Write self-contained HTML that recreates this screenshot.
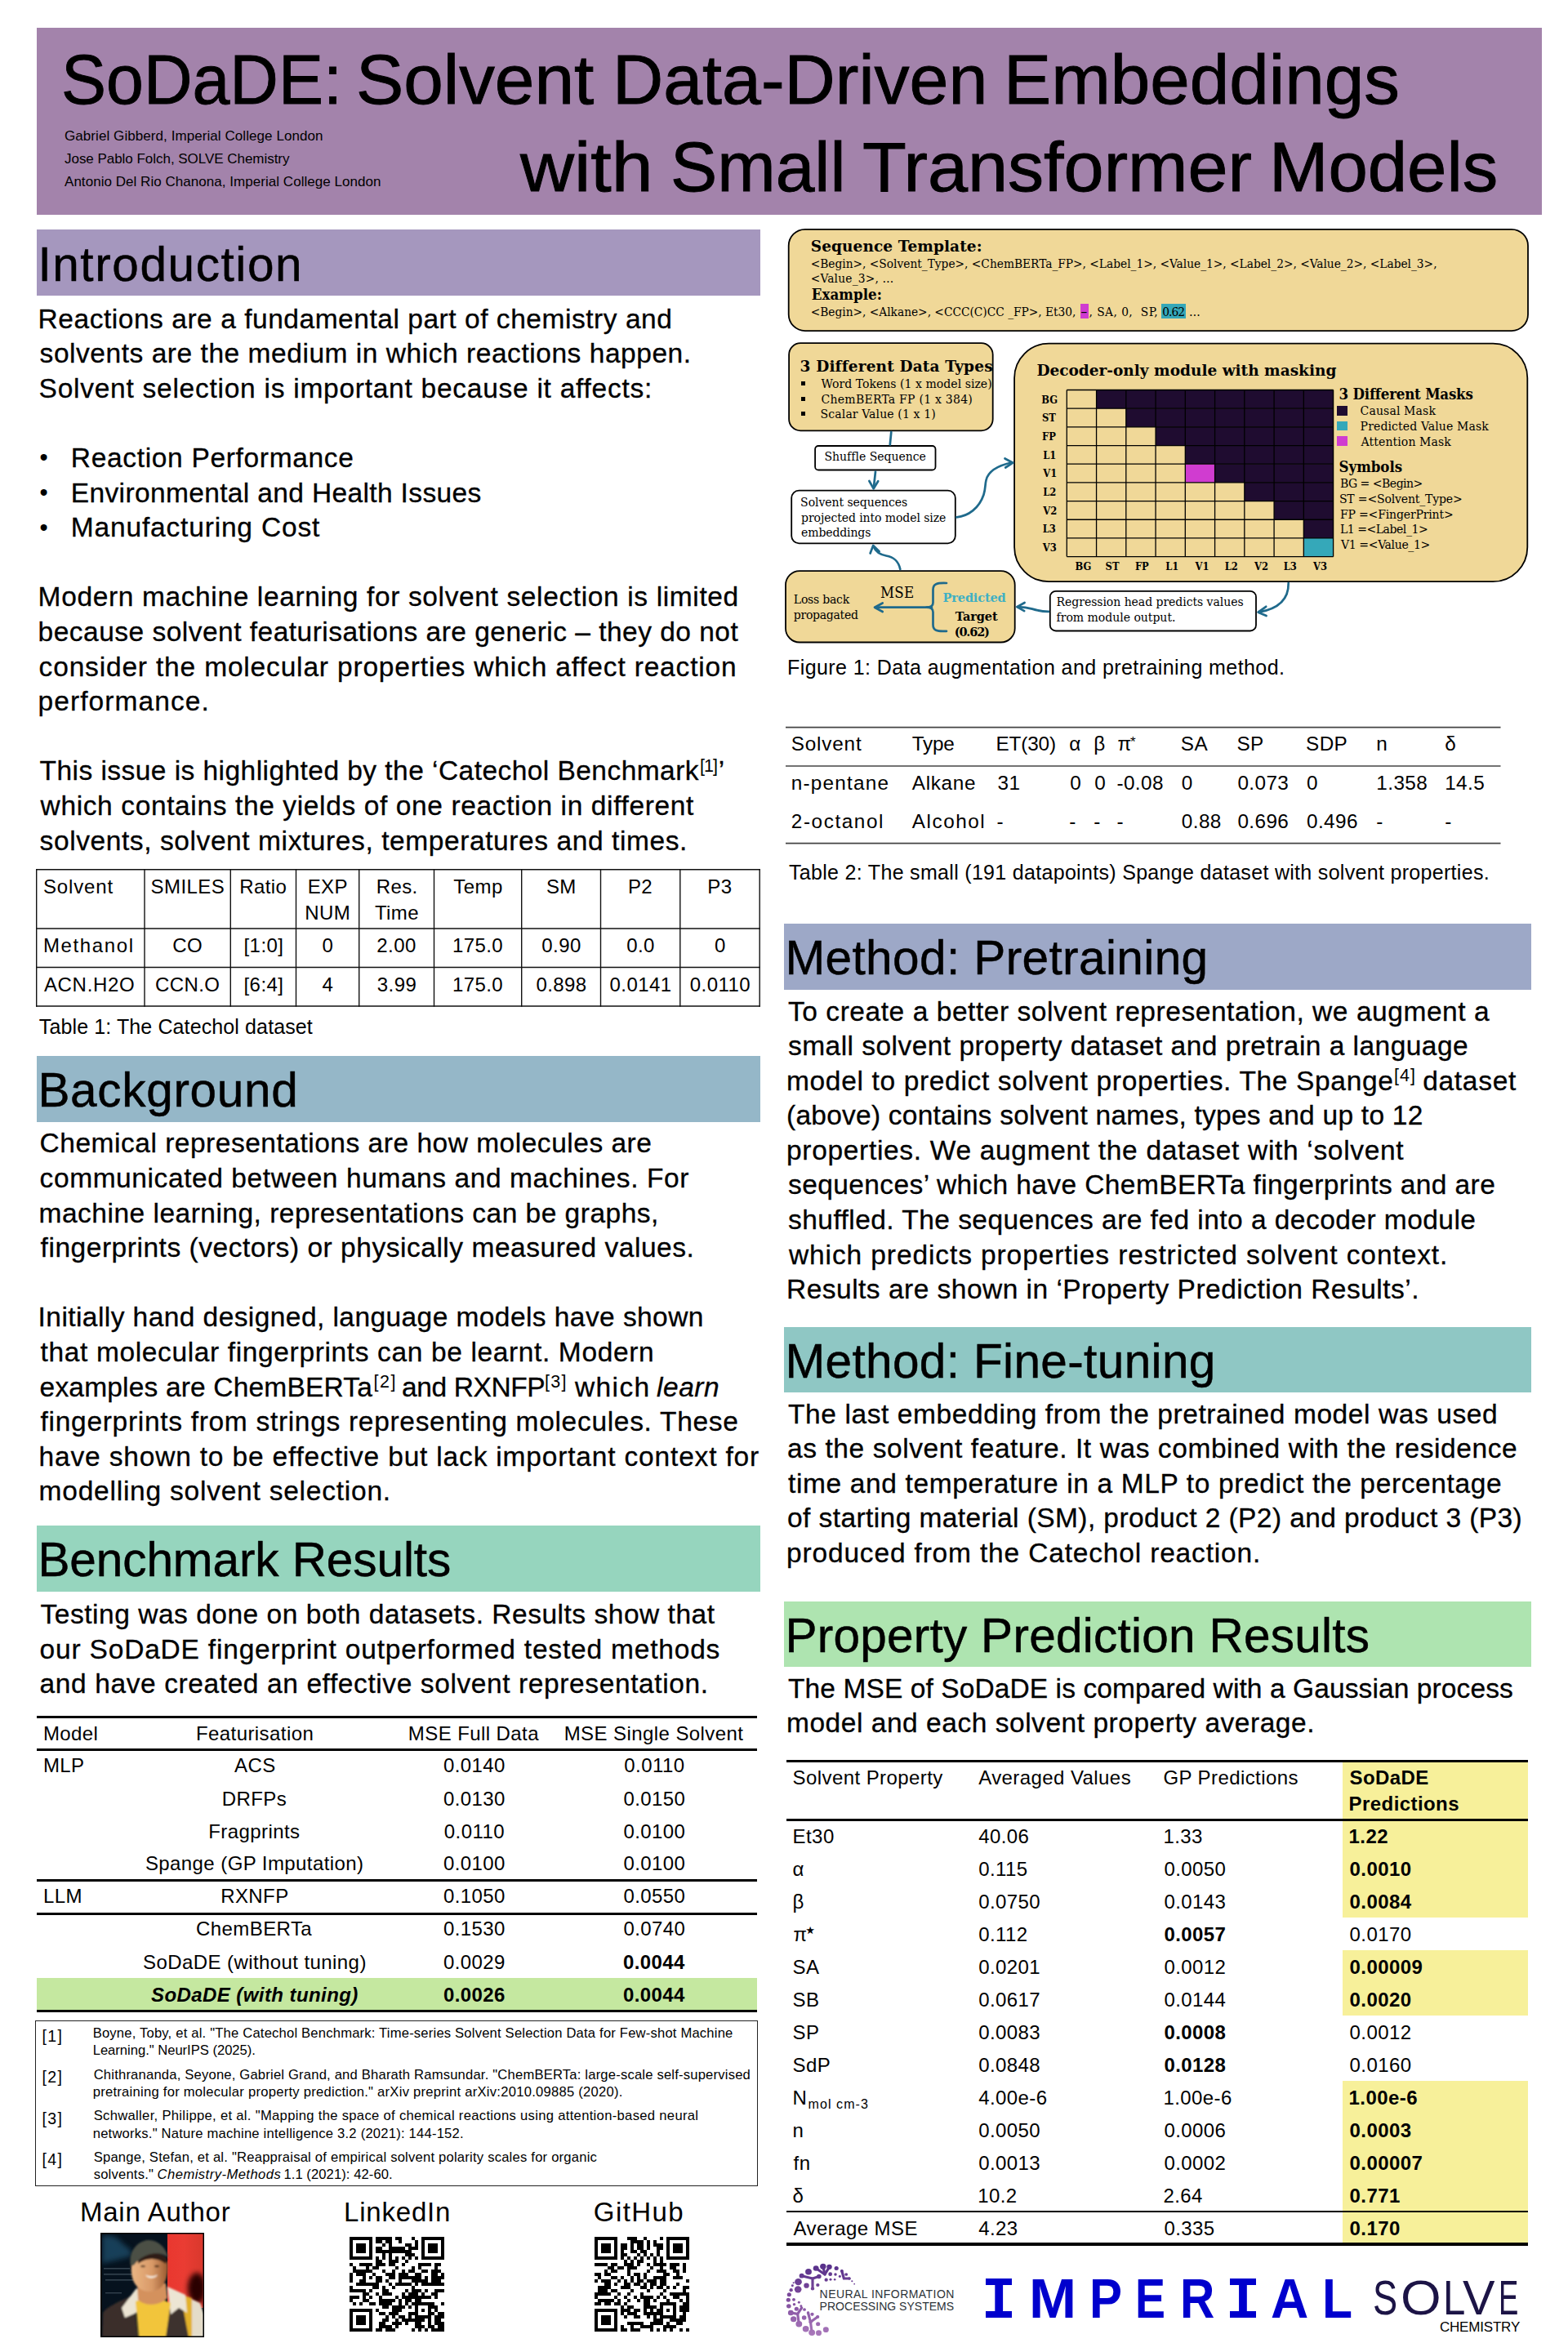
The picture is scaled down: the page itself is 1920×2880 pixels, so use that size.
<!DOCTYPE html>
<html lang="en"><head><meta charset="utf-8"><title>SoDaDE: Solvent Data-Driven Embeddings with Small Transformer Models</title>
<style>
html,body{margin:0;padding:0;background:#fff;}
body{width:1920px;height:2880px;position:relative;overflow:hidden;font-family:"Liberation Sans",sans-serif;color:#000;}
.r{position:absolute;box-sizing:border-box;}
.t{position:absolute;white-space:pre;line-height:1;font-family:"Liberation Sans",sans-serif;}
.s{font-family:"DejaVu Serif",serif;}
.sc{font-family:"DejaVu Serif Condensed","DejaVu Serif",serif;font-stretch:condensed;}
.ls{font-family:"Liberation Serif",serif;}
.m{font-family:"Liberation Mono",monospace;}
.ds{font-family:"DejaVu Sans",sans-serif;}
svg{position:absolute;overflow:visible;}
</style></head><body>

<div class="r" style="left:45.0px;top:34.0px;width:1842.5px;height:229.0px;background:#a383ab;"></div>
<span class="t" style="left:74.52px;top:54.00px;font-size:86px;-webkit-text-stroke:0.9px #000;transform:scaleX(0.9593);transform-origin:0 0;">SoDaDE:</span>
<span class="t" style="left:435.95px;top:54.00px;font-size:86px;-webkit-text-stroke:0.9px #000;transform:scaleX(1.0153);transform-origin:0 0;">Solvent</span>
<span class="t" style="left:749.69px;top:54.00px;font-size:86px;-webkit-text-stroke:0.9px #000;transform:scaleX(1.0012);transform-origin:0 0;">Data-Driven</span>
<span class="t" style="left:1229.20px;top:54.00px;font-size:86px;-webkit-text-stroke:0.9px #000;transform:scaleX(1.0141);transform-origin:0 0;">Embeddings</span>
<span class="t" style="left:637.36px;top:161.00px;font-size:86px;-webkit-text-stroke:0.9px #000;transform:scaleX(1.0630);transform-origin:0 0;">with</span>
<span class="t" style="left:820.61px;top:161.00px;font-size:86px;-webkit-text-stroke:0.9px #000;transform:scaleX(0.9974);transform-origin:0 0;">Small</span>
<span class="t" style="left:1056.47px;top:161.00px;font-size:86px;-webkit-text-stroke:0.9px #000;transform:scaleX(1.0253);transform-origin:0 0;">Transformer</span>
<span class="t" style="left:1553.82px;top:161.00px;font-size:86px;-webkit-text-stroke:0.9px #000;transform:scaleX(1.0107);transform-origin:0 0;">Models</span>
<span class="t" style="left:79.00px;top:158.00px;font-size:17px;letter-spacing:0.070px;">Gabriel Gibberd, Imperial College London</span>
<span class="t" style="left:79.00px;top:186.00px;font-size:17px;letter-spacing:-0.032px;">Jose Pablo Folch, SOLVE Chemistry</span>
<span class="t" style="left:79.00px;top:214.00px;font-size:17px;letter-spacing:0.040px;">Antonio Del Rio Chanona, Imperial College London</span>
<div class="r" style="left:45.0px;top:281.0px;width:886.0px;height:80.5px;background:#a597be;"></div>
<span class="t" style="left:46.40px;top:295.00px;font-size:58.5px;letter-spacing:1.594px;-webkit-text-stroke:0.5px #000;">Introduction</span>
<span class="t" style="left:46.60px;top:374.00px;font-size:33.5px;letter-spacing:0.538px;-webkit-text-stroke:0.3px #000;">Reactions are a fundamental part of chemistry and</span>
<span class="t" style="left:48.60px;top:416.00px;font-size:33.5px;letter-spacing:0.542px;-webkit-text-stroke:0.3px #000;">solvents are the medium in which reactions happen.</span>
<span class="t" style="left:47.60px;top:459.00px;font-size:33.5px;letter-spacing:0.740px;-webkit-text-stroke:0.3px #000;">Solvent selection is important because it affects:</span>
<span class="t" style="left:48.60px;top:546.00px;font-size:29px;">•</span>
<span class="t" style="left:86.80px;top:544.00px;font-size:33.5px;letter-spacing:0.675px;-webkit-text-stroke:0.3px #000;">Reaction Performance</span>
<span class="t" style="left:48.60px;top:589.00px;font-size:29px;">•</span>
<span class="t" style="left:86.80px;top:587.00px;font-size:33.5px;letter-spacing:0.361px;-webkit-text-stroke:0.3px #000;">Environmental and Health Issues</span>
<span class="t" style="left:48.60px;top:632.00px;font-size:29px;">•</span>
<span class="t" style="left:86.80px;top:629.00px;font-size:33.5px;letter-spacing:0.825px;-webkit-text-stroke:0.3px #000;">Manufacturing Cost</span>
<span class="t" style="left:46.60px;top:714.00px;font-size:33.5px;letter-spacing:0.630px;-webkit-text-stroke:0.3px #000;">Modern machine learning for solvent selection is limited</span>
<span class="t" style="left:46.60px;top:757.00px;font-size:33.5px;letter-spacing:0.484px;-webkit-text-stroke:0.3px #000;">because solvent featurisations are generic – they do not</span>
<span class="t" style="left:47.60px;top:800.00px;font-size:33.5px;letter-spacing:0.827px;-webkit-text-stroke:0.3px #000;">consider the molecular properties which affect reaction</span>
<span class="t" style="left:46.60px;top:842.00px;font-size:33.5px;letter-spacing:1.076px;-webkit-text-stroke:0.3px #000;">performance.</span>
<span class="t" style="left:48.60px;top:927.00px;font-size:33.5px;letter-spacing:0.451px;-webkit-text-stroke:0.3px #000;">This issue is highlighted by the ‘Catechol Benchmark</span>
<span class="t" style="left:857.10px;top:928.00px;font-size:21.5px;letter-spacing:-1.015px;">[1]</span>
<span class="t" style="left:879.70px;top:927.00px;font-size:33.5px;-webkit-text-stroke:0.3px #000;">’</span>
<span class="t" style="left:49.60px;top:970.00px;font-size:33.5px;letter-spacing:0.624px;-webkit-text-stroke:0.3px #000;">which contains the yields of one reaction in different</span>
<span class="t" style="left:48.60px;top:1013.00px;font-size:33.5px;letter-spacing:0.587px;-webkit-text-stroke:0.3px #000;">solvents, solvent mixtures, temperatures and times.</span>
<svg style="left:0;top:0" width="1000" height="1300" viewBox="0 0 1000 1300"><line x1="44.7" y1="1064.0" x2="44.7" y2="1232.7" stroke="#111" stroke-width="1.4"/><line x1="177" y1="1064.0" x2="177" y2="1232.7" stroke="#111" stroke-width="1.4"/><line x1="282.3" y1="1064.0" x2="282.3" y2="1232.7" stroke="#111" stroke-width="1.4"/><line x1="362.5" y1="1064.0" x2="362.5" y2="1232.7" stroke="#111" stroke-width="1.4"/><line x1="439.7" y1="1064.0" x2="439.7" y2="1232.7" stroke="#111" stroke-width="1.4"/><line x1="531.5" y1="1064.0" x2="531.5" y2="1232.7" stroke="#111" stroke-width="1.4"/><line x1="638.7" y1="1064.0" x2="638.7" y2="1232.7" stroke="#111" stroke-width="1.4"/><line x1="735.5" y1="1064.0" x2="735.5" y2="1232.7" stroke="#111" stroke-width="1.4"/><line x1="832.8" y1="1064.0" x2="832.8" y2="1232.7" stroke="#111" stroke-width="1.4"/><line x1="930.2" y1="1064.0" x2="930.2" y2="1232.7" stroke="#111" stroke-width="1.4"/><line x1="44.0" y1="1064.7" x2="930.9000000000001" y2="1064.7" stroke="#111" stroke-width="1.4"/><line x1="44.0" y1="1137" x2="930.9000000000001" y2="1137" stroke="#111" stroke-width="1.4"/><line x1="44.0" y1="1184.5" x2="930.9000000000001" y2="1184.5" stroke="#111" stroke-width="1.4"/><line x1="44.0" y1="1232" x2="930.9000000000001" y2="1232" stroke="#111" stroke-width="1.4"/></svg>
<span class="t" style="left:52.90px;top:1074.00px;font-size:24px;letter-spacing:0.853px;">Solvent</span>
<span class="t" style="left:184.59px;top:1074.00px;font-size:24px;letter-spacing:0.420px;">SMILES</span>
<span class="t" style="left:293.22px;top:1074.00px;font-size:24px;letter-spacing:0.420px;">Ratio</span>
<span class="t" style="left:376.67px;top:1074.00px;font-size:24px;letter-spacing:0.420px;">EXP</span>
<span class="t" style="left:373.35px;top:1106.00px;font-size:24px;letter-spacing:0.420px;">NUM</span>
<span class="t" style="left:460.63px;top:1074.00px;font-size:24px;letter-spacing:0.420px;">Res.</span>
<span class="t" style="left:458.92px;top:1106.00px;font-size:24px;letter-spacing:0.420px;">Time</span>
<span class="t" style="left:555.30px;top:1074.00px;font-size:24px;letter-spacing:0.420px;">Temp</span>
<span class="t" style="left:668.89px;top:1074.00px;font-size:24px;letter-spacing:0.420px;">SM</span>
<span class="t" style="left:768.94px;top:1074.00px;font-size:24px;letter-spacing:0.420px;">P2</span>
<span class="t" style="left:866.29px;top:1074.00px;font-size:24px;letter-spacing:0.420px;">P3</span>
<span class="t" style="left:52.90px;top:1146.00px;font-size:24px;letter-spacing:1.629px;">Methanol</span>
<span class="t" style="left:211.27px;top:1146.00px;font-size:24px;letter-spacing:0.420px;">CO</span>
<span class="t" style="left:298.54px;top:1146.00px;font-size:24px;letter-spacing:0.420px;">[1:0]</span>
<span class="t" style="left:394.60px;top:1146.00px;font-size:24px;letter-spacing:0.420px;">0</span>
<span class="t" style="left:461.29px;top:1146.00px;font-size:24px;letter-spacing:0.420px;">2.00</span>
<span class="t" style="left:553.90px;top:1146.00px;font-size:24px;letter-spacing:0.420px;">175.0</span>
<span class="t" style="left:663.29px;top:1146.00px;font-size:24px;letter-spacing:0.420px;">0.90</span>
<span class="t" style="left:767.22px;top:1146.00px;font-size:24px;letter-spacing:0.420px;">0.0</span>
<span class="t" style="left:875.00px;top:1146.00px;font-size:24px;letter-spacing:0.420px;">0</span>
<span class="t" style="left:53.90px;top:1194.00px;font-size:24px;letter-spacing:0.697px;">ACN.H2O</span>
<span class="t" style="left:189.98px;top:1194.00px;font-size:24px;letter-spacing:0.420px;">CCN.O</span>
<span class="t" style="left:298.54px;top:1194.00px;font-size:24px;letter-spacing:0.420px;">[6:4]</span>
<span class="t" style="left:394.60px;top:1194.00px;font-size:24px;letter-spacing:0.420px;">4</span>
<span class="t" style="left:461.79px;top:1194.00px;font-size:24px;letter-spacing:0.420px;">3.99</span>
<span class="t" style="left:553.90px;top:1194.00px;font-size:24px;letter-spacing:0.420px;">175.0</span>
<span class="t" style="left:656.40px;top:1194.00px;font-size:24px;letter-spacing:0.420px;">0.898</span>
<span class="t" style="left:746.57px;top:1194.00px;font-size:24px;letter-spacing:0.420px;">0.0141</span>
<span class="t" style="left:844.81px;top:1194.00px;font-size:24px;letter-spacing:0.420px;">0.0110</span>
<span class="t" style="left:47.80px;top:1245.00px;font-size:25px;letter-spacing:0.118px;">Table 1: The Catechol dataset</span>
<div class="r" style="left:45.0px;top:1293.0px;width:886.0px;height:80.5px;background:#95b7c8;"></div>
<span class="t" style="left:46.40px;top:1306.00px;font-size:58.5px;letter-spacing:0.692px;-webkit-text-stroke:0.5px #000;">Background</span>
<span class="t" style="left:48.60px;top:1383.00px;font-size:33.5px;letter-spacing:0.514px;-webkit-text-stroke:0.3px #000;">Chemical representations are how molecules are</span>
<span class="t" style="left:48.60px;top:1426.00px;font-size:33.5px;letter-spacing:0.584px;-webkit-text-stroke:0.3px #000;">communicated between humans and machines. For</span>
<span class="t" style="left:47.60px;top:1469.00px;font-size:33.5px;letter-spacing:0.492px;-webkit-text-stroke:0.3px #000;">machine learning, representations can be graphs,</span>
<span class="t" style="left:49.60px;top:1511.00px;font-size:33.5px;letter-spacing:0.530px;-webkit-text-stroke:0.3px #000;">fingerprints (vectors) or physically measured values.</span>
<span class="t" style="left:46.60px;top:1596.00px;font-size:33.5px;letter-spacing:0.429px;-webkit-text-stroke:0.3px #000;">Initially hand designed, language models have shown</span>
<span class="t" style="left:49.60px;top:1639.00px;font-size:33.5px;letter-spacing:0.633px;-webkit-text-stroke:0.3px #000;">that molecular fingerprints can be learnt. Modern</span>
<span class="t" style="left:48.60px;top:1682.00px;font-size:33.5px;letter-spacing:0.181px;-webkit-text-stroke:0.3px #000;">examples are ChemBERTa</span>
<span class="t" style="left:457.60px;top:1682.00px;font-size:21.5px;letter-spacing:1.535px;">[2]</span>
<span class="t" style="left:492.00px;top:1682.00px;font-size:33.5px;letter-spacing:-0.387px;-webkit-text-stroke:0.3px #000;">and RXNFP</span>
<span class="t" style="left:667.00px;top:1682.00px;font-size:21.5px;letter-spacing:1.335px;">[3]</span>
<span class="t" style="left:704.00px;top:1682.00px;font-size:33.5px;letter-spacing:1.371px;-webkit-text-stroke:0.3px #000;">which</span>
<span class="t" style="left:804.00px;top:1682.00px;font-size:33.5px;letter-spacing:0.535px;font-style:italic;-webkit-text-stroke:0.3px #000;">learn</span>
<span class="t" style="left:49.60px;top:1724.00px;font-size:33.5px;letter-spacing:0.695px;-webkit-text-stroke:0.3px #000;">fingerprints from strings representing molecules. These</span>
<span class="t" style="left:47.60px;top:1767.00px;font-size:33.5px;letter-spacing:0.823px;-webkit-text-stroke:0.3px #000;">have shown to be effective but lack important context for</span>
<span class="t" style="left:47.60px;top:1809.00px;font-size:33.5px;letter-spacing:0.772px;-webkit-text-stroke:0.3px #000;">modelling solvent selection.</span>
<div class="r" style="left:45.0px;top:1868.2px;width:886.0px;height:80.8px;background:#96d5be;"></div>
<span class="t" style="left:46.40px;top:1881.00px;font-size:58.5px;letter-spacing:-0.084px;-webkit-text-stroke:0.5px #000;">Benchmark Results</span>
<span class="t" style="left:49.60px;top:1960.00px;font-size:33.5px;letter-spacing:0.520px;-webkit-text-stroke:0.3px #000;">Testing was done on both datasets. Results show that</span>
<span class="t" style="left:48.60px;top:2003.00px;font-size:33.5px;letter-spacing:0.806px;-webkit-text-stroke:0.3px #000;">our SoDaDE fingerprint outperformed tested methods</span>
<span class="t" style="left:48.60px;top:2045.00px;font-size:33.5px;letter-spacing:0.601px;-webkit-text-stroke:0.3px #000;">and have created an effective solvent representation.</span>
<div class="r" style="left:44.7px;top:2101.2px;width:882.8px;height:3.2px;background:#000;"></div>
<div class="r" style="left:44.7px;top:2141.0px;width:882.8px;height:3.0px;background:#000;"></div>
<div class="r" style="left:44.7px;top:2301.0px;width:882.8px;height:3.0px;background:#000;"></div>
<div class="r" style="left:44.7px;top:2341.6px;width:882.8px;height:3.0px;background:#000;"></div>
<div class="r" style="left:44.7px;top:2422.0px;width:882.8px;height:39.5px;background:#c5e8a0;"></div>
<div class="r" style="left:44.7px;top:2460.8px;width:882.8px;height:3.4px;background:#000;"></div>
<span class="t" style="left:52.90px;top:2111.00px;font-size:24px;letter-spacing:0.420px;">Model</span>
<span class="t" style="left:239.98px;top:2111.00px;font-size:24px;letter-spacing:0.420px;">Featurisation</span>
<span class="t" style="left:499.80px;top:2111.00px;font-size:24px;letter-spacing:0.420px;">MSE Full Data</span>
<span class="t" style="left:690.71px;top:2111.00px;font-size:24px;letter-spacing:0.420px;">MSE Single Solvent</span>
<span class="t" style="left:52.90px;top:2150.00px;font-size:24px;letter-spacing:0.420px;">MLP</span>
<span class="t" style="left:287.11px;top:2150.00px;font-size:24px;letter-spacing:0.420px;">ACS</span>
<span class="t" style="left:542.92px;top:2150.00px;font-size:24px;letter-spacing:0.420px;">0.0140</span>
<span class="t" style="left:764.31px;top:2150.00px;font-size:24px;letter-spacing:0.420px;">0.0110</span>
<span class="t" style="left:271.69px;top:2191.00px;font-size:24px;letter-spacing:0.420px;">DRFPs</span>
<span class="t" style="left:542.92px;top:2191.00px;font-size:24px;letter-spacing:0.420px;">0.0130</span>
<span class="t" style="left:763.42px;top:2191.00px;font-size:24px;letter-spacing:0.420px;">0.0150</span>
<span class="t" style="left:255.29px;top:2231.00px;font-size:24px;letter-spacing:0.420px;">Fragprints</span>
<span class="t" style="left:543.81px;top:2231.00px;font-size:24px;letter-spacing:0.420px;">0.0110</span>
<span class="t" style="left:763.42px;top:2231.00px;font-size:24px;letter-spacing:0.420px;">0.0100</span>
<span class="t" style="left:177.88px;top:2270.00px;font-size:24px;letter-spacing:0.420px;">Spange (GP Imputation)</span>
<span class="t" style="left:542.92px;top:2270.00px;font-size:24px;letter-spacing:0.420px;">0.0100</span>
<span class="t" style="left:763.42px;top:2270.00px;font-size:24px;letter-spacing:0.420px;">0.0100</span>
<span class="t" style="left:52.90px;top:2310.00px;font-size:24px;letter-spacing:0.420px;">LLM</span>
<span class="t" style="left:270.19px;top:2310.00px;font-size:24px;letter-spacing:0.420px;">RXNFP</span>
<span class="t" style="left:542.92px;top:2310.00px;font-size:24px;letter-spacing:0.420px;">0.1050</span>
<span class="t" style="left:763.42px;top:2310.00px;font-size:24px;letter-spacing:0.420px;">0.0550</span>
<span class="t" style="left:240.05px;top:2350.00px;font-size:24px;letter-spacing:0.420px;">ChemBERTa</span>
<span class="t" style="left:542.92px;top:2350.00px;font-size:24px;letter-spacing:0.420px;">0.1530</span>
<span class="t" style="left:763.42px;top:2350.00px;font-size:24px;letter-spacing:0.420px;">0.0740</span>
<span class="t" style="left:175.01px;top:2391.00px;font-size:24px;letter-spacing:0.420px;">SoDaDE (without tuning)</span>
<span class="t" style="left:542.92px;top:2391.00px;font-size:24px;letter-spacing:0.420px;">0.0029</span>
<span class="t" style="left:762.92px;top:2391.00px;font-size:24px;letter-spacing:0.420px;font-weight:700;">0.0044</span>
<span class="t" style="left:185.06px;top:2431.00px;font-size:24px;letter-spacing:0.420px;font-weight:700;font-style:italic;">SoDaDE (with tuning)</span>
<span class="t" style="left:542.92px;top:2431.00px;font-size:24px;letter-spacing:0.420px;font-weight:700;">0.0026</span>
<span class="t" style="left:762.92px;top:2431.00px;font-size:24px;letter-spacing:0.420px;font-weight:700;">0.0044</span>
<div class="r" style="left:43.2px;top:2474.0px;width:885.0px;height:202.5px;background:#fff;border:1.3px solid #222;"></div>
<span class="t" style="left:51.60px;top:2484.00px;font-size:19.5px;letter-spacing:1.319px;">[1]</span>
<span class="t" style="left:113.70px;top:2482.00px;font-size:16.6px;letter-spacing:0.195px;">Boyne, Toby, et al. "The Catechol Benchmark: Time-series Solvent Selection Data for Few-shot Machine</span>
<span class="t" style="left:113.70px;top:2503.00px;font-size:16.6px;letter-spacing:-0.015px;">Learning." NeurIPS (2025).</span>
<span class="t" style="left:51.60px;top:2534.00px;font-size:19.5px;letter-spacing:1.319px;">[2]</span>
<span class="t" style="left:114.70px;top:2533.00px;font-size:16.6px;letter-spacing:0.195px;">Chithrananda, Seyone, Gabriel Grand, and Bharath Ramsundar. "ChemBERTa: large-scale self-supervised</span>
<span class="t" style="left:113.70px;top:2554.00px;font-size:16.6px;letter-spacing:0.257px;">pretraining for molecular property prediction." arXiv preprint arXiv:2010.09885 (2020).</span>
<span class="t" style="left:51.60px;top:2585.00px;font-size:19.5px;letter-spacing:1.319px;">[3]</span>
<span class="t" style="left:114.70px;top:2583.00px;font-size:16.6px;letter-spacing:0.319px;">Schwaller, Philippe, et al. "Mapping the space of chemical reactions using attention-based neural</span>
<span class="t" style="left:113.70px;top:2605.00px;font-size:16.6px;letter-spacing:0.218px;">networks." Nature machine intelligence 3.2 (2021): 144-152.</span>
<span class="t" style="left:51.60px;top:2635.00px;font-size:19.5px;letter-spacing:1.319px;">[4]</span>
<span class="t" style="left:114.70px;top:2634.00px;font-size:16.6px;letter-spacing:0.219px;">Spange, Stefan, et al. "Reappraisal of empirical solvent polarity scales for organic</span>
<span class="t" style="left:114.70px;top:2655.00px;font-size:16.6px;letter-spacing:0.202px;">solvents."</span>
<span class="t" style="left:192.60px;top:2655.00px;font-size:16.6px;letter-spacing:0.459px;font-style:italic;">Chemistry‐Methods</span>
<span class="t" style="left:347.40px;top:2655.00px;font-size:16.6px;letter-spacing:0.076px;">1.1 (2021): 42-60.</span>
<span class="t" style="left:98.00px;top:2692.00px;font-size:33px;letter-spacing:0.757px;">Main Author</span>
<span class="t" style="left:421.00px;top:2692.00px;font-size:33px;letter-spacing:0.798px;">LinkedIn</span>
<span class="t" style="left:726.80px;top:2692.00px;font-size:33px;letter-spacing:1.429px;">GitHub</span>
<svg style="left:0;top:0" width="1920" height="800" viewBox="0 0 1920 800"><rect x="965.70" y="280.80" width="905.30" height="124.30" rx="20.10" fill="#f0d898" stroke="#000" stroke-width="1.8"/></svg>
<span class="t s" style="left:992.70px;top:293.00px;font-size:18.5px;letter-spacing:0.090px;font-weight:700;">Sequence Template:</span>
<span class="t sc" style="left:992.70px;top:316.00px;font-size:15.3px;">&lt;Begin&gt;, &lt;Solvent_Type&gt;, &lt;ChemBERTa_FP&gt;, &lt;Label_1&gt;, &lt;Value_1&gt;, &lt;Label_2&gt;, &lt;Value_2&gt;, &lt;Label_3&gt;,</span>
<span class="t sc" style="left:992.70px;top:334.00px;font-size:15.3px;letter-spacing:0.211px;">&lt;Value_3&gt;, …</span>
<span class="t sc" style="left:993.70px;top:352.00px;font-size:18.5px;letter-spacing:0.079px;font-weight:700;">Example:</span>
<div class="r" style="left:1322.6px;top:371.6px;width:10.0px;height:18.9px;background:#d03cd0;"></div>
<div class="r" style="left:1421.8px;top:371.6px;width:29.9px;height:18.9px;background:#35a8b9;"></div>
<span class="t sc" style="left:992.70px;top:375.00px;font-size:15.3px;letter-spacing:-0.007px;">&lt;Begin&gt;, &lt;Alkane&gt;, &lt;CCC(C)CC _FP&gt;, Et30,</span>
<span class="t sc" style="left:1323.60px;top:375.00px;font-size:15.3px;letter-spacing:-1.646px;">--</span>
<span class="t sc" style="left:1333.60px;top:375.00px;font-size:15.3px;letter-spacing:0.450px;">, SA, 0,  SP,</span>
<span class="t sc" style="left:1423.30px;top:375.00px;font-size:15.3px;letter-spacing:-0.959px;">0.62</span>
<span class="t sc" style="left:1455.90px;top:375.00px;font-size:15.3px;letter-spacing:1.800px;">…</span>
<svg style="left:0;top:0" width="1920" height="800" viewBox="0 0 1920 800"><rect x="966.10" y="420.20" width="249.60" height="107.10" rx="14.10" fill="#f0d898" stroke="#000" stroke-width="1.8"/></svg>
<span class="t s" style="left:979.60px;top:440.00px;font-size:18.5px;letter-spacing:0.158px;font-weight:700;">3 Different Data Types</span>
<div class="r" style="left:981.2px;top:467.3px;width:4.6px;height:4.6px;background:#000;"></div>
<span class="t sc" style="left:1005.60px;top:463.00px;font-size:15.6px;letter-spacing:0.038px;">Word Tokens (1 x model size)</span>
<div class="r" style="left:981.2px;top:486.0px;width:4.6px;height:4.6px;background:#000;"></div>
<span class="t sc" style="left:1005.60px;top:482.00px;font-size:15.6px;letter-spacing:0.234px;">ChemBERTa FP (1 x 384)</span>
<div class="r" style="left:981.2px;top:504.4px;width:4.6px;height:4.6px;background:#000;"></div>
<span class="t sc" style="left:1004.60px;top:500.00px;font-size:15.6px;letter-spacing:0.120px;">Scalar Value (1 x 1)</span>
<svg style="left:0;top:0" width="1920" height="800" viewBox="0 0 1920 800"><rect x="998.10" y="546.00" width="147.40" height="29.50" rx="4.10" fill="#fff" stroke="#000" stroke-width="1.8"/></svg>
<span class="t sc" style="left:1009.50px;top:552.00px;font-size:15.6px;letter-spacing:-0.021px;">Shuffle Sequence</span>
<svg style="left:0;top:0" width="1920" height="800" viewBox="0 0 1920 800"><rect x="969.20" y="600.60" width="200.60" height="64.70" rx="9.10" fill="#fff" stroke="#000" stroke-width="1.8"/></svg>
<span class="t sc" style="left:980.10px;top:608.00px;font-size:15.6px;letter-spacing:-0.062px;">Solvent sequences</span>
<span class="t sc" style="left:981.10px;top:627.00px;font-size:15.6px;letter-spacing:-0.091px;">projected into model size</span>
<span class="t sc" style="left:981.10px;top:645.00px;font-size:15.6px;letter-spacing:-0.137px;">embeddings</span>
<svg style="left:0;top:0" width="1920" height="800" viewBox="0 0 1920 800"><rect x="962.00" y="699.10" width="280.70" height="87.40" rx="17.10" fill="#f0d898" stroke="#000" stroke-width="1.8"/></svg>
<span class="t sc" style="left:971.80px;top:727.00px;font-size:15.6px;letter-spacing:-0.238px;">Loss back</span>
<span class="t sc" style="left:971.80px;top:746.00px;font-size:15.6px;letter-spacing:-0.293px;">propagated</span>
<span class="t sc" style="left:1078.00px;top:717.00px;font-size:18.5px;letter-spacing:0.227px;">MSE</span>
<span class="t s" style="left:1154.60px;top:725.00px;font-size:14.5px;letter-spacing:-0.158px;font-weight:700;color:#3fb0c3;">Predicted</span>
<span class="t s" style="left:1169.70px;top:748.00px;font-size:14.5px;letter-spacing:-0.100px;font-weight:700;">Target</span>
<span class="t s" style="left:1168.70px;top:767.00px;font-size:14.5px;letter-spacing:-1.155px;font-weight:700;">(0.62)</span>
<svg style="left:0;top:0" width="1920" height="800" viewBox="0 0 1920 800"><rect x="1285.80" y="723.90" width="252.20" height="48.60" rx="7.10" fill="#fff" stroke="#000" stroke-width="1.8"/></svg>
<span class="t sc" style="left:1293.60px;top:730.00px;font-size:15.6px;letter-spacing:-0.056px;">Regression head predicts values</span>
<span class="t sc" style="left:1293.60px;top:749.00px;font-size:15.6px;letter-spacing:-0.026px;">from module output.</span>
<svg style="left:0;top:0" width="1920" height="800" viewBox="0 0 1920 800"><rect x="1242.10" y="420.70" width="628.20" height="291.40" rx="42.10" fill="#f0d898" stroke="#000" stroke-width="1.8"/></svg>
<span class="t s" style="left:1269.40px;top:445.00px;font-size:18.5px;letter-spacing:0.008px;font-weight:700;">Decoder-only module with masking</span>
<svg style="left:0;top:0" width="1920" height="800" viewBox="0 0 1920 800">
<rect x="1342.56" y="477.50" width="290.04" height="22.68" fill="#1f0c30"/>
<rect x="1378.81" y="500.18" width="253.79" height="22.68" fill="#1f0c30"/>
<rect x="1415.07" y="522.86" width="217.53" height="22.68" fill="#1f0c30"/>
<rect x="1451.32" y="545.53" width="181.28" height="22.68" fill="#1f0c30"/>
<rect x="1487.58" y="568.21" width="145.02" height="22.68" fill="#1f0c30"/>
<rect x="1523.83" y="590.89" width="108.77" height="22.68" fill="#1f0c30"/>
<rect x="1560.09" y="613.57" width="72.51" height="22.68" fill="#1f0c30"/>
<rect x="1596.34" y="636.24" width="36.26" height="22.68" fill="#1f0c30"/>
<rect x="1632.60" y="658.92" width="0.00" height="22.68" fill="#1f0c30"/>
<rect x="1451.32" y="568.21" width="36.26" height="22.68" fill="#d03cd0"/>
<rect x="1596.34" y="658.92" width="36.26" height="22.68" fill="#35a8b9"/>
<line x1="1306.30" y1="477.50" x2="1306.30" y2="681.60" stroke="#000" stroke-width="1.3"/>
<line x1="1306.30" y1="477.50" x2="1632.60" y2="477.50" stroke="#000" stroke-width="1.3"/>
<line x1="1342.56" y1="477.50" x2="1342.56" y2="681.60" stroke="#000" stroke-width="1.3"/>
<line x1="1306.30" y1="500.18" x2="1632.60" y2="500.18" stroke="#000" stroke-width="1.3"/>
<line x1="1378.81" y1="477.50" x2="1378.81" y2="681.60" stroke="#000" stroke-width="1.3"/>
<line x1="1306.30" y1="522.86" x2="1632.60" y2="522.86" stroke="#000" stroke-width="1.3"/>
<line x1="1415.07" y1="477.50" x2="1415.07" y2="681.60" stroke="#000" stroke-width="1.3"/>
<line x1="1306.30" y1="545.53" x2="1632.60" y2="545.53" stroke="#000" stroke-width="1.3"/>
<line x1="1451.32" y1="477.50" x2="1451.32" y2="681.60" stroke="#000" stroke-width="1.3"/>
<line x1="1306.30" y1="568.21" x2="1632.60" y2="568.21" stroke="#000" stroke-width="1.3"/>
<line x1="1487.58" y1="477.50" x2="1487.58" y2="681.60" stroke="#000" stroke-width="1.3"/>
<line x1="1306.30" y1="590.89" x2="1632.60" y2="590.89" stroke="#000" stroke-width="1.3"/>
<line x1="1523.83" y1="477.50" x2="1523.83" y2="681.60" stroke="#000" stroke-width="1.3"/>
<line x1="1306.30" y1="613.57" x2="1632.60" y2="613.57" stroke="#000" stroke-width="1.3"/>
<line x1="1560.09" y1="477.50" x2="1560.09" y2="681.60" stroke="#000" stroke-width="1.3"/>
<line x1="1306.30" y1="636.24" x2="1632.60" y2="636.24" stroke="#000" stroke-width="1.3"/>
<line x1="1596.34" y1="477.50" x2="1596.34" y2="681.60" stroke="#000" stroke-width="1.3"/>
<line x1="1306.30" y1="658.92" x2="1632.60" y2="658.92" stroke="#000" stroke-width="1.3"/>
<line x1="1632.60" y1="477.50" x2="1632.60" y2="681.60" stroke="#000" stroke-width="1.3"/>
<line x1="1306.30" y1="681.60" x2="1632.60" y2="681.60" stroke="#000" stroke-width="1.3"/>
<path d="M1091.3 529 L1089.8 544.5" fill="none" stroke="#1f6a8c" stroke-width="2.7" stroke-linecap="round" stroke-linejoin="round"/>
<path d="M1072 577.5 L1069.8 597.5" fill="none" stroke="#1f6a8c" stroke-width="2.7" stroke-linecap="round" stroke-linejoin="round"/>
<path d="M1064.4 589 L1069.7 598.3 L1075.2 589.2" fill="none" stroke="#1f6a8c" stroke-width="2.7" stroke-linecap="round" stroke-linejoin="round"/>
<path d="M1171.3 633.3 C1186 632 1199 622 1204.5 605.7 C1207 598 1206 594 1207.5 588 C1210 577 1222 570 1239.5 566.3" fill="none" stroke="#1f6a8c" stroke-width="2.7" stroke-linecap="round" stroke-linejoin="round"/>
<path d="M1230.5 561.5 L1240.3 566.7 L1231.2 572.5" fill="none" stroke="#1f6a8c" stroke-width="2.7" stroke-linecap="round" stroke-linejoin="round"/>
<path d="M1102.3 697 C1100 686 1094 682 1085 680.5 C1077 679 1072 675 1069.4 669" fill="none" stroke="#1f6a8c" stroke-width="2.7" stroke-linecap="round" stroke-linejoin="round"/>
<path d="M1065.6 677.5 L1069.2 668 L1076.6 675.2" fill="none" stroke="#1f6a8c" stroke-width="2.7" stroke-linecap="round" stroke-linejoin="round"/>
<path d="M1141 743.7 L1072 743.7" fill="none" stroke="#1f6a8c" stroke-width="2.7" stroke-linecap="round" stroke-linejoin="round"/>
<path d="M1080.7 738.5 L1071 743.7 L1080.7 749" fill="none" stroke="#1f6a8c" stroke-width="2.7" stroke-linecap="round" stroke-linejoin="round"/>
<path d="M1159 714 C1147 713.5 1142.5 715 1142.5 722 L1142.5 738 C1142.5 742 1139 743.7 1134.6 743.7 C1139 743.7 1142.5 745.5 1142.5 749.5 L1142.5 765 C1142.5 772 1147 773.5 1159 772.8" fill="none" stroke="#1f6a8c" stroke-width="2.7" stroke-linecap="round" stroke-linejoin="round"/>
<path d="M1577.7 714 C1578 732 1568 745 1541.5 749.6" fill="none" stroke="#1f6a8c" stroke-width="2.7" stroke-linecap="round" stroke-linejoin="round"/>
<path d="M1550.2 742.8 L1540.6 749.7 L1550.6 754" fill="none" stroke="#1f6a8c" stroke-width="2.7" stroke-linecap="round" stroke-linejoin="round"/>
<path d="M1284 748.9 C1275 749 1270 747.5 1264 745.6 C1258 744 1252 743.3 1246 743.1" fill="none" stroke="#1f6a8c" stroke-width="2.7" stroke-linecap="round" stroke-linejoin="round"/>
<path d="M1254.6 738 L1245.3 743.1 L1254.2 748.2" fill="none" stroke="#1f6a8c" stroke-width="2.7" stroke-linecap="round" stroke-linejoin="round"/>
</svg>
<span class="t sc" style="left:1275.22px;top:484.00px;font-size:12.8px;font-weight:700;">BG</span>
<span class="t sc" style="left:1316.54px;top:688.00px;font-size:12.8px;font-weight:700;">BG</span>
<span class="t sc" style="left:1276.04px;top:506.00px;font-size:12.8px;font-weight:700;">ST</span>
<span class="t sc" style="left:1353.62px;top:688.00px;font-size:12.8px;font-weight:700;">ST</span>
<span class="t sc" style="left:1276.11px;top:529.00px;font-size:12.8px;font-weight:700;">FP</span>
<span class="t sc" style="left:1389.95px;top:688.00px;font-size:12.8px;font-weight:700;">FP</span>
<span class="t sc" style="left:1277.15px;top:552.00px;font-size:12.8px;font-weight:700;">L1</span>
<span class="t sc" style="left:1427.25px;top:688.00px;font-size:12.8px;font-weight:700;">L1</span>
<span class="t sc" style="left:1277.23px;top:574.00px;font-size:12.8px;font-weight:700;">V1</span>
<span class="t sc" style="left:1463.58px;top:688.00px;font-size:12.8px;font-weight:700;">V1</span>
<span class="t sc" style="left:1277.15px;top:597.00px;font-size:12.8px;font-weight:700;">L2</span>
<span class="t sc" style="left:1499.76px;top:688.00px;font-size:12.8px;font-weight:700;">L2</span>
<span class="t sc" style="left:1277.23px;top:620.00px;font-size:12.8px;font-weight:700;">V2</span>
<span class="t sc" style="left:1536.09px;top:688.00px;font-size:12.8px;font-weight:700;">V2</span>
<span class="t sc" style="left:1276.65px;top:642.00px;font-size:12.8px;font-weight:700;">L3</span>
<span class="t sc" style="left:1571.77px;top:688.00px;font-size:12.8px;font-weight:700;">L3</span>
<span class="t sc" style="left:1276.73px;top:665.00px;font-size:12.8px;font-weight:700;">V3</span>
<span class="t sc" style="left:1608.10px;top:688.00px;font-size:12.8px;font-weight:700;">V3</span>
<span class="t sc" style="left:1639.60px;top:474.00px;font-size:18.5px;letter-spacing:-0.202px;font-weight:700;">3 Different Masks</span>
<div class="r" style="left:1636.9px;top:497.2px;width:13.2px;height:11.4px;background:#1f0c30;"></div>
<span class="t sc" style="left:1665.60px;top:496.00px;font-size:15.6px;letter-spacing:0.125px;">Causal Mask</span>
<div class="r" style="left:1636.9px;top:515.8px;width:13.2px;height:11.4px;background:#35a8b9;"></div>
<span class="t sc" style="left:1665.60px;top:515.00px;font-size:15.6px;letter-spacing:0.121px;">Predicted Value Mask</span>
<div class="r" style="left:1636.9px;top:534.3px;width:13.2px;height:11.4px;background:#d03cd0;"></div>
<span class="t sc" style="left:1666.60px;top:534.00px;font-size:15.6px;letter-spacing:0.096px;">Attention Mask</span>
<span class="t sc" style="left:1639.60px;top:563.00px;font-size:18.5px;letter-spacing:-0.045px;font-weight:700;">Symbols</span>
<span class="t sc" style="left:1640.90px;top:585.00px;font-size:15.6px;letter-spacing:-0.512px;">BG = &lt;Begin&gt;</span>
<span class="t sc" style="left:1639.90px;top:604.00px;font-size:15.6px;letter-spacing:-0.167px;">ST =&lt;Solvent_Type&gt;</span>
<span class="t sc" style="left:1640.90px;top:623.00px;font-size:15.6px;letter-spacing:-0.168px;">FP =&lt;FingerPrint&gt;</span>
<span class="t sc" style="left:1640.90px;top:641.00px;font-size:15.6px;letter-spacing:-0.466px;">L1 =&lt;Label_1&gt;</span>
<span class="t sc" style="left:1641.90px;top:660.00px;font-size:15.6px;letter-spacing:-0.346px;">V1 =&lt;Value_1&gt;</span>
<span class="t" style="left:964.00px;top:805.00px;font-size:25px;letter-spacing:0.422px;">Figure 1: Data augmentation and pretraining method.</span>
<svg style="left:0;top:0" width="1920" height="1100" viewBox="0 0 1920 1100"><line x1="962" y1="890.7" x2="1837.5" y2="890.7" stroke="#444" stroke-width="1.7"/><line x1="962" y1="938" x2="1837.5" y2="938" stroke="#444" stroke-width="1.7"/><line x1="962" y1="1032.7" x2="1837.5" y2="1032.7" stroke="#444" stroke-width="1.7"/></svg>
<span class="t" style="left:968.80px;top:899.00px;font-size:24.3px;letter-spacing:0.802px;">Solvent</span>
<span class="t" style="left:1116.80px;top:899.00px;font-size:24.3px;letter-spacing:-0.254px;">Type</span>
<span class="t" style="left:1219.50px;top:899.00px;font-size:24.3px;letter-spacing:-0.133px;">ET(30)</span>
<span class="t" style="left:1309.30px;top:899.00px;font-size:24.3px;letter-spacing:0.420px;">α</span>
<span class="t" style="left:1339.30px;top:899.00px;font-size:24.3px;letter-spacing:0.420px;">β</span>
<span class="t" style="left:1368.40px;top:899.00px;font-size:24.3px;">π</span>
<span class="t" style="left:1383.90px;top:900.00px;font-size:17px;">*</span>
<span class="t" style="left:1445.80px;top:899.00px;font-size:24.3px;letter-spacing:0.420px;">SA</span>
<span class="t" style="left:1514.40px;top:899.00px;font-size:24.3px;letter-spacing:0.420px;">SP</span>
<span class="t" style="left:1599.00px;top:899.00px;font-size:24.3px;letter-spacing:0.420px;">SDP</span>
<span class="t" style="left:1685.30px;top:899.00px;font-size:24.3px;letter-spacing:0.420px;">n</span>
<span class="t" style="left:1769.20px;top:899.00px;font-size:24.3px;letter-spacing:0.420px;">δ</span>
<span class="t" style="left:968.80px;top:947.00px;font-size:24.3px;letter-spacing:1.210px;">n-pentane</span>
<span class="t" style="left:1116.80px;top:947.00px;font-size:24.3px;letter-spacing:0.684px;">Alkane</span>
<span class="t" style="left:1221.50px;top:947.00px;font-size:24.3px;letter-spacing:0.420px;">31</span>
<span class="t" style="left:1310.30px;top:947.00px;font-size:24.3px;letter-spacing:0.420px;">0</span>
<span class="t" style="left:1340.30px;top:947.00px;font-size:24.3px;letter-spacing:0.420px;">0</span>
<span class="t" style="left:1367.40px;top:947.00px;font-size:24.3px;letter-spacing:0.420px;">-0.08</span>
<span class="t" style="left:1446.80px;top:947.00px;font-size:24.3px;letter-spacing:0.420px;">0</span>
<span class="t" style="left:1515.40px;top:947.00px;font-size:24.3px;letter-spacing:0.420px;">0.073</span>
<span class="t" style="left:1600.00px;top:947.00px;font-size:24.3px;letter-spacing:0.420px;">0</span>
<span class="t" style="left:1685.30px;top:947.00px;font-size:24.3px;letter-spacing:0.420px;">1.358</span>
<span class="t" style="left:1769.20px;top:947.00px;font-size:24.3px;letter-spacing:0.420px;">14.5</span>
<span class="t" style="left:968.80px;top:994.00px;font-size:24.3px;letter-spacing:1.581px;">2-octanol</span>
<span class="t" style="left:1116.80px;top:994.00px;font-size:24.3px;letter-spacing:1.535px;">Alcohol</span>
<span class="t" style="left:1220.50px;top:994.00px;font-size:24.3px;letter-spacing:0.420px;">-</span>
<span class="t" style="left:1309.30px;top:994.00px;font-size:24.3px;letter-spacing:0.420px;">-</span>
<span class="t" style="left:1339.30px;top:994.00px;font-size:24.3px;letter-spacing:0.420px;">-</span>
<span class="t" style="left:1367.40px;top:994.00px;font-size:24.3px;letter-spacing:0.420px;">-</span>
<span class="t" style="left:1446.80px;top:994.00px;font-size:24.3px;letter-spacing:0.420px;">0.88</span>
<span class="t" style="left:1515.40px;top:994.00px;font-size:24.3px;letter-spacing:0.420px;">0.696</span>
<span class="t" style="left:1600.00px;top:994.00px;font-size:24.3px;letter-spacing:0.420px;">0.496</span>
<span class="t" style="left:1685.30px;top:994.00px;font-size:24.3px;letter-spacing:0.420px;">-</span>
<span class="t" style="left:1769.20px;top:994.00px;font-size:24.3px;letter-spacing:0.420px;">-</span>
<span class="t" style="left:966.00px;top:1056.00px;font-size:25px;letter-spacing:0.310px;">Table 2: The small (191 datapoints) Spange dataset with solvent properties.</span>
<div class="r" style="left:960.0px;top:1131.3px;width:915.0px;height:80.6px;background:#9da8c7;"></div>
<span class="t" style="left:961.40px;top:1144.00px;font-size:58.5px;letter-spacing:0.400px;-webkit-text-stroke:0.5px #000;">Method: Pretraining</span>
<span class="t" style="left:965.00px;top:1222.00px;font-size:33.5px;letter-spacing:0.555px;-webkit-text-stroke:0.3px #000;">To create a better solvent representation, we augment a</span>
<span class="t" style="left:965.00px;top:1264.00px;font-size:33.5px;letter-spacing:0.461px;-webkit-text-stroke:0.3px #000;">small solvent property dataset and pretrain a language</span>
<span class="t" style="left:963.00px;top:1307.00px;font-size:33.5px;letter-spacing:0.657px;-webkit-text-stroke:0.3px #000;">model to predict solvent properties. The Spange</span>
<span class="t" style="left:1707.00px;top:1307.00px;font-size:21.5px;letter-spacing:1.035px;">[4]</span>
<span class="t" style="left:1742.20px;top:1307.00px;font-size:33.5px;letter-spacing:0.703px;-webkit-text-stroke:0.3px #000;">dataset</span>
<span class="t" style="left:963.00px;top:1349.00px;font-size:33.5px;letter-spacing:0.247px;-webkit-text-stroke:0.3px #000;">(above) contains solvent names, types and up to 12</span>
<span class="t" style="left:963.00px;top:1392.00px;font-size:33.5px;letter-spacing:0.678px;-webkit-text-stroke:0.3px #000;">properties. We augment the dataset with ‘solvent</span>
<span class="t" style="left:965.00px;top:1434.00px;font-size:33.5px;letter-spacing:0.399px;-webkit-text-stroke:0.3px #000;">sequences’ which have ChemBERTa fingerprints and are</span>
<span class="t" style="left:965.00px;top:1477.00px;font-size:33.5px;letter-spacing:0.456px;-webkit-text-stroke:0.3px #000;">shuffled. The sequences are fed into a decoder module</span>
<span class="t" style="left:966.00px;top:1520.00px;font-size:33.5px;letter-spacing:0.897px;-webkit-text-stroke:0.3px #000;">which predicts properties restricted solvent context.</span>
<span class="t" style="left:963.00px;top:1562.00px;font-size:33.5px;letter-spacing:0.483px;-webkit-text-stroke:0.3px #000;">Results are shown in ‘Property Prediction Results’.</span>
<div class="r" style="left:960.0px;top:1624.5px;width:915.0px;height:80.7px;background:#8fc7c4;"></div>
<span class="t" style="left:961.40px;top:1638.00px;font-size:58.5px;letter-spacing:0.369px;-webkit-text-stroke:0.5px #000;">Method: Fine-tuning</span>
<span class="t" style="left:965.00px;top:1715.00px;font-size:33.5px;letter-spacing:0.590px;-webkit-text-stroke:0.3px #000;">The last embedding from the pretrained model was used</span>
<span class="t" style="left:964.00px;top:1757.00px;font-size:33.5px;letter-spacing:0.585px;-webkit-text-stroke:0.3px #000;">as the solvent feature. It was combined with the residence</span>
<span class="t" style="left:965.00px;top:1800.00px;font-size:33.5px;letter-spacing:0.639px;-webkit-text-stroke:0.3px #000;">time and temperature in a MLP to predict the percentage</span>
<span class="t" style="left:964.00px;top:1842.00px;font-size:33.5px;letter-spacing:0.418px;-webkit-text-stroke:0.3px #000;">of starting material (SM), product 2 (P2) and product 3 (P3)</span>
<span class="t" style="left:963.00px;top:1885.00px;font-size:33.5px;letter-spacing:0.832px;-webkit-text-stroke:0.3px #000;">produced from the Catechol reaction.</span>
<div class="r" style="left:960.0px;top:1960.7px;width:915.0px;height:80.5px;background:#aee4b0;"></div>
<span class="t" style="left:961.40px;top:1974.00px;font-size:58.5px;letter-spacing:0.264px;-webkit-text-stroke:0.5px #000;">Property Prediction Results</span>
<span class="t" style="left:965.00px;top:2051.00px;font-size:33.5px;letter-spacing:0.100px;-webkit-text-stroke:0.3px #000;">The MSE of SoDaDE is compared with a Gaussian process</span>
<span class="t" style="left:963.00px;top:2093.00px;font-size:33.5px;letter-spacing:0.533px;-webkit-text-stroke:0.3px #000;">model and each solvent property average.</span>
<div class="r" style="left:1644.0px;top:2156.0px;width:226.6px;height:191.6px;background:#f7f09a;"></div>
<div class="r" style="left:1644.0px;top:2388.4px;width:226.6px;height:79.8px;background:#f7f09a;"></div>
<div class="r" style="left:1644.0px;top:2548.4px;width:226.6px;height:199.6px;background:#f7f09a;"></div>
<div class="r" style="left:963.0px;top:2155.0px;width:907.6px;height:3.0px;background:#000;"></div>
<div class="r" style="left:963.0px;top:2227.0px;width:907.6px;height:3.0px;background:#000;"></div>
<div class="r" style="left:963.0px;top:2706.9px;width:907.6px;height:2.4px;background:#000;"></div>
<div class="r" style="left:963.0px;top:2746.4px;width:907.6px;height:3.2px;background:#000;"></div>
<span class="t" style="left:970.60px;top:2165.00px;font-size:24px;letter-spacing:0.420px;">Solvent Property</span>
<span class="t" style="left:1198.20px;top:2165.00px;font-size:24px;letter-spacing:0.420px;">Averaged Values</span>
<span class="t" style="left:1424.40px;top:2165.00px;font-size:24px;letter-spacing:0.420px;">GP Predictions</span>
<span class="t" style="left:1652.60px;top:2165.00px;font-size:24px;letter-spacing:0.420px;font-weight:700;">SoDaDE</span>
<span class="t" style="left:1651.60px;top:2197.00px;font-size:24px;letter-spacing:0.420px;font-weight:700;">Predictions</span>
<span class="t" style="left:970.60px;top:2237.00px;font-size:24px;letter-spacing:0.420px;">Et30</span>
<span class="t" style="left:1198.20px;top:2237.00px;font-size:24px;letter-spacing:0.420px;">40.06</span>
<span class="t" style="left:1424.40px;top:2237.00px;font-size:24px;letter-spacing:0.420px;">1.33</span>
<span class="t" style="left:1651.60px;top:2237.00px;font-size:24px;letter-spacing:0.420px;font-weight:700;">1.22</span>
<span class="t" style="left:970.60px;top:2277.00px;font-size:24px;letter-spacing:0.420px;">α</span>
<span class="t" style="left:1198.20px;top:2277.00px;font-size:24px;letter-spacing:0.420px;">0.115</span>
<span class="t" style="left:1425.40px;top:2277.00px;font-size:24px;letter-spacing:0.420px;">0.0050</span>
<span class="t" style="left:1652.60px;top:2277.00px;font-size:24px;letter-spacing:0.420px;font-weight:700;">0.0010</span>
<span class="t" style="left:970.60px;top:2317.00px;font-size:24px;letter-spacing:0.420px;">β</span>
<span class="t" style="left:1198.20px;top:2317.00px;font-size:24px;letter-spacing:0.420px;">0.0750</span>
<span class="t" style="left:1425.40px;top:2317.00px;font-size:24px;letter-spacing:0.420px;">0.0143</span>
<span class="t" style="left:1652.60px;top:2317.00px;font-size:24px;letter-spacing:0.420px;font-weight:700;">0.0084</span>
<span class="t" style="left:971.60px;top:2357.00px;font-size:24px;letter-spacing:0.420px;">π</span>
<span class="t" style="left:1198.20px;top:2357.00px;font-size:24px;letter-spacing:0.420px;">0.112</span>
<span class="t" style="left:1425.40px;top:2357.00px;font-size:24px;letter-spacing:0.420px;font-weight:700;">0.0057</span>
<span class="t" style="left:1652.60px;top:2357.00px;font-size:24px;letter-spacing:0.420px;">0.0170</span>
<span class="t ds" style="left:984.00px;top:2350.00px;font-size:26px;">⋆</span>
<span class="t" style="left:970.60px;top:2397.00px;font-size:24px;letter-spacing:0.420px;">SA</span>
<span class="t" style="left:1198.20px;top:2397.00px;font-size:24px;letter-spacing:0.420px;">0.0201</span>
<span class="t" style="left:1425.40px;top:2397.00px;font-size:24px;letter-spacing:0.420px;">0.0012</span>
<span class="t" style="left:1652.60px;top:2397.00px;font-size:24px;letter-spacing:0.420px;font-weight:700;">0.00009</span>
<span class="t" style="left:970.60px;top:2437.00px;font-size:24px;letter-spacing:0.420px;">SB</span>
<span class="t" style="left:1198.20px;top:2437.00px;font-size:24px;letter-spacing:0.420px;">0.0617</span>
<span class="t" style="left:1425.40px;top:2437.00px;font-size:24px;letter-spacing:0.420px;">0.0144</span>
<span class="t" style="left:1652.60px;top:2437.00px;font-size:24px;letter-spacing:0.420px;font-weight:700;">0.0020</span>
<span class="t" style="left:970.60px;top:2477.00px;font-size:24px;letter-spacing:0.420px;">SP</span>
<span class="t" style="left:1198.20px;top:2477.00px;font-size:24px;letter-spacing:0.420px;">0.0083</span>
<span class="t" style="left:1425.40px;top:2477.00px;font-size:24px;letter-spacing:0.420px;font-weight:700;">0.0008</span>
<span class="t" style="left:1652.60px;top:2477.00px;font-size:24px;letter-spacing:0.420px;">0.0012</span>
<span class="t" style="left:970.60px;top:2517.00px;font-size:24px;letter-spacing:0.420px;">SdP</span>
<span class="t" style="left:1198.20px;top:2517.00px;font-size:24px;letter-spacing:0.420px;">0.0848</span>
<span class="t" style="left:1425.40px;top:2517.00px;font-size:24px;letter-spacing:0.420px;font-weight:700;">0.0128</span>
<span class="t" style="left:1652.60px;top:2517.00px;font-size:24px;letter-spacing:0.420px;">0.0160</span>
<span class="t" style="left:970.60px;top:2557.00px;font-size:24px;letter-spacing:0.420px;">N</span>
<span class="t" style="left:1198.20px;top:2557.00px;font-size:24px;letter-spacing:0.420px;">4.00e-6</span>
<span class="t" style="left:1424.40px;top:2557.00px;font-size:24px;letter-spacing:0.420px;">1.00e-6</span>
<span class="t" style="left:1651.60px;top:2557.00px;font-size:24px;letter-spacing:0.420px;font-weight:700;">1.00e-6</span>
<span class="t" style="left:989.50px;top:2569.00px;font-size:16px;letter-spacing:1.088px;">mol cm-3</span>
<span class="t" style="left:970.60px;top:2597.00px;font-size:24px;letter-spacing:0.420px;">n</span>
<span class="t" style="left:1198.20px;top:2597.00px;font-size:24px;letter-spacing:0.420px;">0.0050</span>
<span class="t" style="left:1425.40px;top:2597.00px;font-size:24px;letter-spacing:0.420px;">0.0006</span>
<span class="t" style="left:1652.60px;top:2597.00px;font-size:24px;letter-spacing:0.420px;font-weight:700;">0.0003</span>
<span class="t" style="left:971.60px;top:2637.00px;font-size:24px;letter-spacing:0.420px;">fn</span>
<span class="t" style="left:1198.20px;top:2637.00px;font-size:24px;letter-spacing:0.420px;">0.0013</span>
<span class="t" style="left:1425.40px;top:2637.00px;font-size:24px;letter-spacing:0.420px;">0.0002</span>
<span class="t" style="left:1652.60px;top:2637.00px;font-size:24px;letter-spacing:0.420px;font-weight:700;">0.00007</span>
<span class="t" style="left:970.60px;top:2677.00px;font-size:24px;letter-spacing:0.420px;">δ</span>
<span class="t" style="left:1197.20px;top:2677.00px;font-size:24px;letter-spacing:0.420px;">10.2</span>
<span class="t" style="left:1424.40px;top:2677.00px;font-size:24px;letter-spacing:0.420px;">2.64</span>
<span class="t" style="left:1652.60px;top:2677.00px;font-size:24px;letter-spacing:0.420px;font-weight:700;">0.771</span>
<span class="t" style="left:971.60px;top:2717.00px;font-size:24px;letter-spacing:0.420px;">Average MSE</span>
<span class="t" style="left:1198.20px;top:2717.00px;font-size:24px;letter-spacing:0.420px;">4.23</span>
<span class="t" style="left:1425.40px;top:2717.00px;font-size:24px;letter-spacing:0.420px;">0.335</span>
<span class="t" style="left:1652.60px;top:2717.00px;font-size:24px;letter-spacing:0.420px;font-weight:700;">0.170</span>
<svg style="left:122.8px;top:2733.7px" width="127" height="128" viewBox="0 0 127 128">
<defs><clipPath id="pc"><rect x="1.5" y="1.5" width="124" height="125"/></clipPath>
<filter id="bl" x="-20%" y="-20%" width="140%" height="140%"><feGaussianBlur stdDeviation="0.9"/></filter>
<filter id="bl2" x="-30%" y="-30%" width="160%" height="160%"><feGaussianBlur stdDeviation="3"/></filter>
<linearGradient id="rg" x1="82" y1="0" x2="127" y2="0" gradientUnits="userSpaceOnUse"><stop offset="0" stop-color="#e9372f"/><stop offset="0.45" stop-color="#ea3c33"/><stop offset="1" stop-color="#d8382c"/></linearGradient>
<linearGradient id="fg" x1="40" y1="0" x2="82" y2="0" gradientUnits="userSpaceOnUse"><stop offset="0" stop-color="#eab482"/><stop offset="0.55" stop-color="#d99a68"/><stop offset="1" stop-color="#9a5a30"/></linearGradient></defs>
<rect width="127" height="128" fill="#000"/>
<g clip-path="url(#pc)">
<rect width="127" height="128" fill="#06121e"/>
<path d="M2 4 C10 2 20 4 26 12 C32 18 40 20 38 28 C30 32 14 34 2 38 Z" fill="#1c4c68" opacity="0.8" filter="url(#bl2)"/>
<g fill="#33424e"><rect x="4" y="43" width="32" height="1.6"/><rect x="4" y="50" width="36" height="1.6"/><rect x="6" y="57" width="38" height="1.6"/><rect x="6" y="73" width="20" height="1.4"/></g>
<rect x="82" y="0" width="45" height="92" fill="url(#rg)"/>
<ellipse cx="118" cy="68" rx="11" ry="19" fill="#2c0606" filter="url(#bl2)"/>
<g filter="url(#bl)">
<path d="M2 128 L3 98 C8 90 24 84 40 76 L46 128 Z" fill="#3a2e29"/>
<path d="M26 92 L44 68 L52 74 L44 98 L30 104 Z" fill="#ebe4d2"/>
<path d="M109 80 L122 86 L127 100 L127 128 L108 128 Z" fill="#e4dcc9"/>
<path d="M100 76 L112 80 L112 128 L103 128 Z" fill="#e2b12c"/>
<path d="M78 96 L100 86 L108 128 L76 128 Z" fill="#3d322e"/>
<path d="M82 66 L104 76 L106 98 L96 92 L86 100 Z" fill="#ece5d3"/>
<path d="M43 84 C52 80 76 80 86 86 L80 128 L47 128 Z" fill="#f2c53a"/>
<path d="M45 62 L80 62 L82 80 C72 90 54 90 46 82 Z" fill="#d4915d"/>
<path d="M38 40 C36 60 46 72 60 72 C76 72 84 58 82 36 C70 26 50 28 38 40 Z" fill="url(#fg)"/>
<path d="M46 30 C56 22 72 22 82 32 L80 38 C70 30 56 30 46 38 Z" fill="#2e1c12"/>
<path d="M37 40 C34 22 46 10 58 9 C70 8 80 18 83 30 C72 22 56 24 44 36 C42 38 40 42 37 40 Z" fill="#4c4f45"/>
<path d="M55 51.5 C60 54 66 54 70 51 C68 56.5 58 57 55 51.5 Z" fill="#f8f1e6"/>
<ellipse cx="52" cy="41" rx="3" ry="1.2" fill="#5a3a28"/><ellipse cx="69" cy="41" rx="3" ry="1.2" fill="#4a2a18"/>
</g>
</g>
</svg>
<svg style="left:428px;top:2739px" width="116" height="116" viewBox="0 0 29 29" shape-rendering="crispEdges"><path d="M0 0h7v1h-7zM8 0h5v1h-5zM14 0h2v1h-2zM19 0h1v1h-1zM22 0h7v1h-7zM0 1h1v1h-1zM6 1h1v1h-1zM8 1h2v1h-2zM11 1h2v1h-2zM15 1h1v1h-1zM20 1h1v1h-1zM22 1h1v1h-1zM28 1h1v1h-1zM0 2h1v1h-1zM2 2h3v1h-3zM6 2h1v1h-1zM10 2h1v1h-1zM12 2h1v1h-1zM17 2h2v1h-2zM20 2h1v1h-1zM22 2h1v1h-1zM24 2h3v1h-3zM28 2h1v1h-1zM0 3h1v1h-1zM2 3h3v1h-3zM6 3h1v1h-1zM8 3h2v1h-2zM12 3h5v1h-5zM18 3h3v1h-3zM22 3h1v1h-1zM24 3h3v1h-3zM28 3h1v1h-1zM0 4h1v1h-1zM2 4h3v1h-3zM6 4h1v1h-1zM8 4h11v1h-11zM22 4h1v1h-1zM24 4h3v1h-3zM28 4h1v1h-1zM0 5h1v1h-1zM6 5h1v1h-1zM10 5h1v1h-1zM12 5h1v1h-1zM17 5h3v1h-3zM22 5h1v1h-1zM28 5h1v1h-1zM0 6h7v1h-7zM8 6h1v1h-1zM10 6h1v1h-1zM12 6h1v1h-1zM14 6h1v1h-1zM16 6h1v1h-1zM18 6h1v1h-1zM20 6h1v1h-1zM22 6h7v1h-7zM8 7h2v1h-2zM12 7h3v1h-3zM17 7h1v1h-1zM0 8h1v1h-1zM3 8h4v1h-4zM8 8h3v1h-3zM12 8h2v1h-2zM16 8h1v1h-1zM21 8h4v1h-4zM26 8h2v1h-2zM1 9h1v1h-1zM5 9h1v1h-1zM7 9h2v1h-2zM14 9h1v1h-1zM19 9h1v1h-1zM21 9h1v1h-1zM26 9h1v1h-1zM1 10h6v1h-6zM10 10h1v1h-1zM13 10h1v1h-1zM16 10h1v1h-1zM18 10h2v1h-2zM22 10h2v1h-2zM25 10h3v1h-3zM0 11h1v1h-1zM2 11h3v1h-3zM7 11h1v1h-1zM11 11h3v1h-3zM15 11h3v1h-3zM20 11h2v1h-2zM25 11h2v1h-2zM28 11h1v1h-1zM0 12h1v1h-1zM4 12h1v1h-1zM6 12h1v1h-1zM8 12h2v1h-2zM12 12h2v1h-2zM15 12h7v1h-7zM23 12h1v1h-1zM25 12h4v1h-4zM0 13h1v1h-1zM3 13h2v1h-2zM8 13h2v1h-2zM11 13h1v1h-1zM15 13h1v1h-1zM19 13h5v1h-5zM25 13h3v1h-3zM2 14h7v1h-7zM12 14h1v1h-1zM14 14h5v1h-5zM20 14h1v1h-1zM22 14h7v1h-7zM0 15h1v1h-1zM7 15h2v1h-2zM10 15h1v1h-1zM13 15h1v1h-1zM19 15h1v1h-1zM0 16h5v1h-5zM6 16h1v1h-1zM10 16h2v1h-2zM17 16h1v1h-1zM19 16h3v1h-3zM23 16h1v1h-1zM26 16h3v1h-3zM4 17h2v1h-2zM8 17h1v1h-1zM10 17h3v1h-3zM16 17h1v1h-1zM18 17h3v1h-3zM22 17h1v1h-1zM25 17h2v1h-2zM0 18h3v1h-3zM4 18h1v1h-1zM6 18h1v1h-1zM9 18h1v1h-1zM14 18h1v1h-1zM16 18h9v1h-9zM26 18h1v1h-1zM0 19h1v1h-1zM4 19h2v1h-2zM9 19h5v1h-5zM15 19h1v1h-1zM17 19h2v1h-2zM20 19h2v1h-2zM1 20h1v1h-1zM3 20h1v1h-1zM6 20h2v1h-2zM9 20h4v1h-4zM15 20h1v1h-1zM17 20h1v1h-1zM19 20h7v1h-7zM28 20h1v1h-1zM10 21h2v1h-2zM13 21h4v1h-4zM18 21h1v1h-1zM20 21h1v1h-1zM24 21h3v1h-3zM0 22h7v1h-7zM8 22h1v1h-1zM13 22h3v1h-3zM20 22h1v1h-1zM22 22h1v1h-1zM24 22h1v1h-1zM26 22h1v1h-1zM0 23h1v1h-1zM6 23h1v1h-1zM9 23h2v1h-2zM12 23h3v1h-3zM18 23h3v1h-3zM24 23h2v1h-2zM27 23h2v1h-2zM0 24h1v1h-1zM2 24h3v1h-3zM6 24h1v1h-1zM11 24h1v1h-1zM13 24h1v1h-1zM15 24h2v1h-2zM18 24h1v1h-1zM20 24h5v1h-5zM26 24h3v1h-3zM0 25h1v1h-1zM2 25h3v1h-3zM6 25h1v1h-1zM10 25h2v1h-2zM14 25h1v1h-1zM16 25h7v1h-7zM24 25h1v1h-1zM26 25h2v1h-2zM0 26h1v1h-1zM2 26h3v1h-3zM6 26h1v1h-1zM9 26h2v1h-2zM13 26h3v1h-3zM17 26h1v1h-1zM20 26h2v1h-2zM24 26h1v1h-1zM26 26h3v1h-3zM0 27h1v1h-1zM6 27h1v1h-1zM9 27h4v1h-4zM14 27h1v1h-1zM20 27h3v1h-3zM24 27h2v1h-2zM27 27h2v1h-2zM0 28h7v1h-7zM8 28h2v1h-2zM11 28h3v1h-3zM19 28h1v1h-1zM21 28h1v1h-1zM23 28h1v1h-1zM25 28h4v1h-4z" fill="#000"/></svg>
<svg style="left:727.5px;top:2739px" width="116" height="116" viewBox="0 0 29 29" shape-rendering="crispEdges"><path d="M0 0h7v1h-7zM10 0h3v1h-3zM15 0h1v1h-1zM20 0h1v1h-1zM22 0h7v1h-7zM0 1h1v1h-1zM6 1h1v1h-1zM11 1h4v1h-4zM16 1h1v1h-1zM18 1h1v1h-1zM22 1h1v1h-1zM28 1h1v1h-1zM0 2h1v1h-1zM2 2h3v1h-3zM6 2h1v1h-1zM8 2h2v1h-2zM11 2h1v1h-1zM13 2h2v1h-2zM16 2h1v1h-1zM18 2h3v1h-3zM22 2h1v1h-1zM24 2h3v1h-3zM28 2h1v1h-1zM0 3h1v1h-1zM2 3h3v1h-3zM6 3h1v1h-1zM8 3h2v1h-2zM11 3h1v1h-1zM13 3h2v1h-2zM16 3h1v1h-1zM19 3h2v1h-2zM22 3h1v1h-1zM24 3h3v1h-3zM28 3h1v1h-1zM0 4h1v1h-1zM2 4h3v1h-3zM6 4h1v1h-1zM8 4h1v1h-1zM11 4h2v1h-2zM14 4h2v1h-2zM19 4h1v1h-1zM22 4h1v1h-1zM24 4h3v1h-3zM28 4h1v1h-1zM0 5h1v1h-1zM6 5h1v1h-1zM8 5h2v1h-2zM13 5h1v1h-1zM15 5h1v1h-1zM17 5h1v1h-1zM19 5h1v1h-1zM22 5h1v1h-1zM28 5h1v1h-1zM0 6h7v1h-7zM8 6h1v1h-1zM10 6h1v1h-1zM12 6h1v1h-1zM14 6h1v1h-1zM16 6h1v1h-1zM18 6h1v1h-1zM20 6h1v1h-1zM22 6h7v1h-7zM9 7h1v1h-1zM11 7h1v1h-1zM13 7h2v1h-2zM18 7h1v1h-1zM20 7h1v1h-1zM0 8h4v1h-4zM5 8h2v1h-2zM9 8h3v1h-3zM13 8h1v1h-1zM16 8h1v1h-1zM18 8h4v1h-4zM23 8h3v1h-3zM27 8h1v1h-1zM4 9h2v1h-2zM7 9h2v1h-2zM10 9h3v1h-3zM17 9h1v1h-1zM20 9h1v1h-1zM23 9h2v1h-2zM27 9h1v1h-1zM3 10h1v1h-1zM5 10h2v1h-2zM10 10h1v1h-1zM16 10h1v1h-1zM19 10h3v1h-3zM24 10h2v1h-2zM27 10h1v1h-1zM0 11h2v1h-2zM3 11h2v1h-2zM10 11h1v1h-1zM12 11h2v1h-2zM15 11h1v1h-1zM21 11h2v1h-2zM25 11h1v1h-1zM1 12h1v1h-1zM5 12h2v1h-2zM8 12h1v1h-1zM11 12h1v1h-1zM13 12h1v1h-1zM15 12h1v1h-1zM18 12h4v1h-4zM24 12h3v1h-3zM0 13h1v1h-1zM2 13h3v1h-3zM7 13h1v1h-1zM9 13h1v1h-1zM11 13h1v1h-1zM13 13h2v1h-2zM16 13h3v1h-3zM20 13h2v1h-2zM28 13h1v1h-1zM3 14h2v1h-2zM6 14h1v1h-1zM9 14h2v1h-2zM12 14h2v1h-2zM15 14h1v1h-1zM17 14h2v1h-2zM20 14h2v1h-2zM25 14h1v1h-1zM1 15h4v1h-4zM8 15h3v1h-3zM14 15h2v1h-2zM17 15h1v1h-1zM19 15h2v1h-2zM22 15h1v1h-1zM24 15h1v1h-1zM27 15h2v1h-2zM1 16h3v1h-3zM5 16h2v1h-2zM11 16h1v1h-1zM16 16h1v1h-1zM21 16h1v1h-1zM27 16h1v1h-1zM0 17h5v1h-5zM7 17h1v1h-1zM10 17h1v1h-1zM14 17h1v1h-1zM20 17h1v1h-1zM23 17h6v1h-6zM0 18h1v1h-1zM6 18h1v1h-1zM9 18h1v1h-1zM12 18h1v1h-1zM14 18h4v1h-4zM19 18h1v1h-1zM21 18h1v1h-1zM24 18h2v1h-2zM28 18h1v1h-1zM1 19h5v1h-5zM7 19h1v1h-1zM10 19h1v1h-1zM13 19h1v1h-1zM15 19h2v1h-2zM18 19h1v1h-1zM22 19h1v1h-1zM26 19h1v1h-1zM28 19h1v1h-1zM0 20h2v1h-2zM3 20h2v1h-2zM6 20h2v1h-2zM9 20h1v1h-1zM15 20h2v1h-2zM20 20h5v1h-5zM27 20h2v1h-2zM8 21h1v1h-1zM10 21h2v1h-2zM15 21h4v1h-4zM20 21h1v1h-1zM24 21h1v1h-1zM26 21h3v1h-3zM0 22h7v1h-7zM8 22h3v1h-3zM12 22h2v1h-2zM15 22h1v1h-1zM17 22h1v1h-1zM19 22h2v1h-2zM22 22h1v1h-1zM24 22h1v1h-1zM26 22h3v1h-3zM0 23h1v1h-1zM6 23h1v1h-1zM8 23h1v1h-1zM10 23h3v1h-3zM15 23h6v1h-6zM24 23h1v1h-1zM27 23h1v1h-1zM0 24h1v1h-1zM2 24h3v1h-3zM6 24h1v1h-1zM9 24h1v1h-1zM12 24h2v1h-2zM16 24h1v1h-1zM18 24h1v1h-1zM20 24h5v1h-5zM26 24h2v1h-2zM0 25h1v1h-1zM2 25h3v1h-3zM6 25h1v1h-1zM18 25h3v1h-3zM23 25h5v1h-5zM0 26h1v1h-1zM2 26h3v1h-3zM6 26h1v1h-1zM10 26h5v1h-5zM17 26h4v1h-4zM22 26h1v1h-1zM25 26h2v1h-2zM0 27h1v1h-1zM6 27h1v1h-1zM8 27h1v1h-1zM11 27h1v1h-1zM14 27h4v1h-4zM21 27h4v1h-4zM0 28h7v1h-7zM8 28h2v1h-2zM11 28h3v1h-3zM17 28h1v1h-1zM19 28h1v1h-1zM21 28h1v1h-1zM23 28h1v1h-1zM26 28h1v1h-1zM28 28h1v1h-1z" fill="#000"/></svg>
<svg style="left:955px;top:2760px" width="110" height="110" viewBox="0 0 660 660"><defs><linearGradient id="ng" x1="0" y1="70" x2="0" y2="610" gradientUnits="userSpaceOnUse"><stop offset="0" stop-color="#56308a"/><stop offset="0.45" stop-color="#7d4a9c"/><stop offset="1" stop-color="#ab7abc"/></linearGradient></defs><g fill="url(#ng)" stroke="url(#ng)"><ellipse cx="317" cy="92" rx="22.1" ry="21.2" stroke="none"/><ellipse cx="363" cy="95" rx="19.5" ry="18.8" stroke="none"/><ellipse cx="265" cy="105" rx="20.8" ry="20.0" stroke="none"/><ellipse cx="210" cy="130" rx="23.4" ry="22.5" stroke="none"/><ellipse cx="415" cy="105" rx="15.6" ry="15.0" stroke="none"/><ellipse cx="455" cy="125" rx="11.7" ry="11.2" stroke="none"/><ellipse cx="160" cy="160" rx="18.2" ry="17.5" stroke="none"/><ellipse cx="135" cy="205" rx="26.0" ry="25.0" stroke="none"/><ellipse cx="287" cy="165" rx="16.9" ry="16.2" stroke="none"/><ellipse cx="340" cy="190" rx="13.0" ry="12.5" stroke="none"/><ellipse cx="370" cy="148" rx="14.3" ry="13.8" stroke="none"/><ellipse cx="408" cy="150" rx="10.4" ry="10.0" stroke="none"/><ellipse cx="440" cy="165" rx="9.1" ry="8.8" stroke="none"/><ellipse cx="487" cy="150" rx="11.7" ry="11.2" stroke="none"/><ellipse cx="372" cy="187" rx="9.1" ry="8.8" stroke="none"/><ellipse cx="403" cy="187" rx="7.8" ry="7.5" stroke="none"/><ellipse cx="195" cy="232" rx="19.5" ry="18.8" stroke="none"/><ellipse cx="278" cy="228" rx="13.0" ry="12.5" stroke="none"/><ellipse cx="240" cy="255" rx="13.0" ry="12.5" stroke="none"/><ellipse cx="133" cy="260" rx="26.0" ry="25.0" stroke="none"/><ellipse cx="100" cy="212" rx="6.5" ry="6.2" stroke="none"/><ellipse cx="92" cy="233" rx="9.1" ry="8.8" stroke="none"/><ellipse cx="82" cy="265" rx="13.0" ry="12.5" stroke="none"/><ellipse cx="530" cy="200" rx="6.5" ry="6.2" stroke="none"/><ellipse cx="547" cy="220" rx="5.2" ry="5.0" stroke="none"/><ellipse cx="470" cy="180" rx="7.8" ry="7.5" stroke="none"/><ellipse cx="510" cy="180" rx="10.4" ry="10.0" stroke="none"/><ellipse cx="68" cy="298" rx="15.6" ry="15.0" stroke="none"/><ellipse cx="62" cy="338" rx="15.6" ry="15.0" stroke="none"/><ellipse cx="102" cy="335" rx="11.7" ry="11.2" stroke="none"/><ellipse cx="105" cy="370" rx="10.4" ry="10.0" stroke="none"/><ellipse cx="140" cy="355" rx="9.1" ry="8.8" stroke="none"/><ellipse cx="65" cy="383" rx="16.9" ry="16.2" stroke="none"/><ellipse cx="122" cy="403" rx="15.6" ry="15.0" stroke="none"/><ellipse cx="155" cy="383" rx="9.1" ry="8.8" stroke="none"/><ellipse cx="180" cy="408" rx="11.7" ry="11.2" stroke="none"/><ellipse cx="80" cy="432" rx="20.8" ry="20.0" stroke="none"/><ellipse cx="100" cy="478" rx="22.1" ry="21.2" stroke="none"/><ellipse cx="140" cy="515" rx="23.4" ry="22.5" stroke="none"/><ellipse cx="178" cy="468" rx="16.9" ry="16.2" stroke="none"/><ellipse cx="237" cy="443" rx="13.0" ry="12.5" stroke="none"/><ellipse cx="207" cy="432" rx="10.4" ry="10.0" stroke="none"/><ellipse cx="277" cy="462" rx="13.0" ry="12.5" stroke="none"/><ellipse cx="190" cy="550" rx="23.4" ry="22.5" stroke="none"/><ellipse cx="235" cy="578" rx="23.4" ry="22.5" stroke="none"/><ellipse cx="285" cy="580" rx="20.8" ry="20.0" stroke="none"/><ellipse cx="338" cy="556" rx="20.8" ry="20.0" stroke="none"/><ellipse cx="280" cy="515" rx="15.6" ry="15.0" stroke="none"/><ellipse cx="225" cy="500" rx="13.0" ry="12.5" stroke="none"/><polyline points="265,105 330,150 363,95" fill="none" stroke-width="19" stroke-linecap="round" stroke-linejoin="round"/><polyline points="317,92 330,150" fill="none" stroke-width="19" stroke-linecap="round" stroke-linejoin="round"/><polyline points="160,160 240,180 287,165" fill="none" stroke-width="19" stroke-linecap="round" stroke-linejoin="round"/><polyline points="240,180 240,255" fill="none" stroke-width="19" stroke-linecap="round" stroke-linejoin="round"/><polyline points="455,125 470,180 510,180" fill="none" stroke-width="19" stroke-linecap="round" stroke-linejoin="round"/><polyline points="80,432 130,440 160,395" fill="none" stroke-width="19" stroke-linecap="round" stroke-linejoin="round"/><polyline points="130,440 140,515" fill="none" stroke-width="19" stroke-linecap="round" stroke-linejoin="round"/><polyline points="207,432 225,500 277,462" fill="none" stroke-width="19" stroke-linecap="round" stroke-linejoin="round"/><polyline points="225,500 235,578" fill="none" stroke-width="19" stroke-linecap="round" stroke-linejoin="round"/></g></svg>
<span class="t" style="left:1003.60px;top:2802.00px;font-size:14px;letter-spacing:0.451px;color:#2d3338;">NEURAL INFORMATION</span>
<span class="t" style="left:1003.60px;top:2817.00px;font-size:14px;letter-spacing:0.023px;color:#2d3338;">PROCESSING SYSTEMS</span>
<span class="t" style="left:1762.90px;top:2841.00px;font-size:17px;letter-spacing:-0.184px;">CHEMISTRY</span>
<span class="t" style="left:1213.65px;top:2780.00px;font-size:68px;font-weight:700;color:#0000cd;">I</span>
<div class="r" style="left:1206.9px;top:2789.5px;width:32.5px;height:8.4px;background:#0000cd;"></div>
<div class="r" style="left:1206.9px;top:2829.8px;width:32.5px;height:8.4px;background:#0000cd;"></div>
<span class="t" style="left:1259.60px;top:2780.00px;font-size:68px;font-weight:700;color:#0000cd;transform:scaleX(1.0245);transform-origin:0 0;">M</span>
<span class="t" style="left:1334.17px;top:2780.00px;font-size:68px;font-weight:700;color:#0000cd;transform:scaleX(0.8825);transform-origin:0 0;">P</span>
<span class="t" style="left:1389.54px;top:2780.00px;font-size:68px;font-weight:700;color:#0000cd;transform:scaleX(0.8154);transform-origin:0 0;">E</span>
<span class="t" style="left:1444.55px;top:2780.00px;font-size:68px;font-weight:700;color:#0000cd;transform:scaleX(0.8614);transform-origin:0 0;">R</span>
<span class="t" style="left:1512.40px;top:2780.00px;font-size:68px;font-weight:700;color:#0000cd;">I</span>
<div class="r" style="left:1505.8px;top:2789.5px;width:32.2px;height:8.4px;background:#0000cd;"></div>
<div class="r" style="left:1505.8px;top:2829.8px;width:32.2px;height:8.4px;background:#0000cd;"></div>
<span class="t" style="left:1556.06px;top:2780.00px;font-size:68px;font-weight:700;color:#0000cd;transform:scaleX(0.9426);transform-origin:0 0;">A</span>
<span class="t" style="left:1618.93px;top:2780.00px;font-size:68px;font-weight:700;color:#0000cd;transform:scaleX(0.8917);transform-origin:0 0;">L</span>
<span class="t" style="left:1681.49px;top:2784.00px;font-size:60px;color:#1c1446;transform:scaleX(0.7528);transform-origin:0 0;">S</span>
<span class="t" style="left:1714.57px;top:2784.00px;font-size:60px;color:#1c1446;transform:scaleX(1.0643);transform-origin:0 0;">O</span>
<span class="t" style="left:1767.03px;top:2784.00px;font-size:60px;color:#1c1446;transform:scaleX(0.8179);transform-origin:0 0;">L</span>
<span class="t" style="left:1790.90px;top:2784.00px;font-size:60px;color:#1c1446;transform:scaleX(0.9875);transform-origin:0 0;">V</span>
<span class="t" style="left:1835.46px;top:2784.00px;font-size:60px;color:#1c1446;transform:scaleX(0.6088);transform-origin:0 0;">E</span>
</body></html>
